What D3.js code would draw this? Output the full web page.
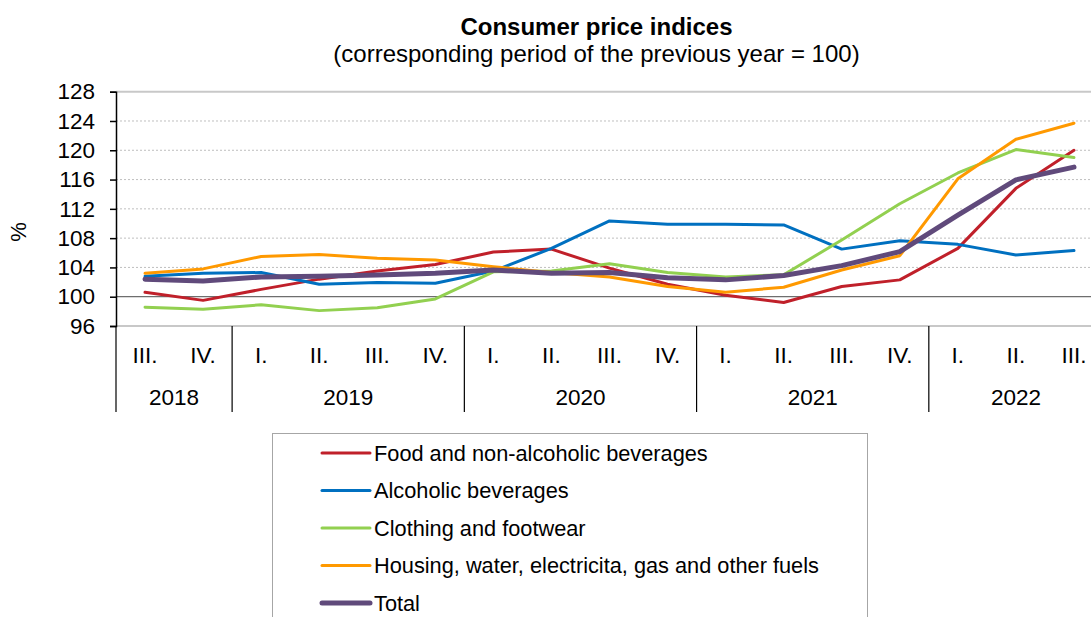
<!DOCTYPE html>
<html><head><meta charset="utf-8">
<script src="https://cdn.jsdelivr.net/npm/d3@7"></script>
<style>body{margin:0;background:#fff}svg{display:block;font-family:"Liberation Sans",Arial,sans-serif}</style>
</head><body><svg id="c" width="1091" height="617"></svg>
<script>
const quarters = ["III.","IV.","I.","II.","III.","IV.","I.","II.","III.","IV.","I.","II.","III.","IV.","I.","II.","III."];
const years = [{label:"2018",start:0,end:2},{label:"2019",start:2,end:6},{label:"2020",start:6,end:10},{label:"2021",start:10,end:14},{label:"2022",start:14,end:17}];
const yTicks = [96,100,104,108,112,116,120,124,128];
const food = [100.6,99.5,101.0,102.4,103.5,104.4,106.1,106.5,103.9,101.7,100.2,99.2,101.4,102.3,106.6,114.8,120.0];
const alcohol = [102.8,103.2,103.3,101.7,101.95,101.85,103.5,106.6,110.35,109.9,109.9,109.8,106.5,107.65,107.15,105.7,106.3];
const clothing = [98.55,98.3,98.9,98.1,98.5,99.7,103.4,103.5,104.5,103.3,102.7,103.0,107.75,112.7,116.9,120.1,119.0];
const housing = [103.2,103.8,105.5,105.75,105.25,105.0,104.1,103.3,102.7,101.4,100.6,101.3,103.65,105.6,116.1,121.5,123.7];
const total = [102.4,102.15,102.7,102.8,102.95,103.2,103.65,103.2,103.3,102.6,102.3,102.9,104.25,106.15,111.15,115.95,117.7];
const seriesNames = ["Food and non-alcoholic beverages","Alcoholic beverages","Clothing and footwear","Housing, water, electricita, gas and other fuels","Total"];
const seriesValues = [food, alcohol, clothing, housing, total];
const colors = ["#c0202a","#0070c0","#92d050","#ff9900","#604a7b"];
const widths = [3,3,3,3,5];

const svg = d3.select("#c");
const L = 116, R = 1103, T = 91.7, B = 326;
const x = d3.scaleBand().domain(d3.range(quarters.length)).range([L, R]);
const y = d3.scaleLinear().domain([96,128]).range([B, T]);
const cx = i => x(i) + x.bandwidth()/2;

// title
svg.append("text").attr("x",596.5).attr("y",35).attr("text-anchor","middle").attr("font-weight","bold").attr("font-size",24).text("Consumer price indices");
svg.append("text").attr("x",596.5).attr("y",62).attr("text-anchor","middle").attr("font-size",24).text("(corresponding period of the previous year = 100)");

// gridlines
svg.append("g").selectAll("line").data(yTicks.filter(t=>t!==96 && t!==100 && t!==128)).join("line")
  .attr("x1",L).attr("x2",R).attr("y1",d=>y(d)).attr("y2",d=>y(d))
  .attr("stroke","#bfbfbf").attr("stroke-width",1).attr("stroke-dasharray","2,2");
// plot top/bottom borders
svg.append("line").attr("x1",L).attr("x2",R).attr("y1",y(128)).attr("y2",y(128)).attr("stroke","#c8c8c8").attr("stroke-width",2);
svg.append("line").attr("x1",L).attr("x2",R).attr("y1",y(96)).attr("y2",y(96)).attr("stroke","#c8c8c8").attr("stroke-width",2);
// 100 line
svg.append("line").attr("x1",L).attr("x2",R).attr("y1",y(100)).attr("y2",y(100)).attr("stroke","#6e6e6e").attr("stroke-width",1.3);

// y axis
const yAxis = d3.axisLeft(y).tickValues(yTicks).tickSize(6).tickPadding(15);
const ga = svg.append("g").attr("transform",`translate(${L},0)`).call(yAxis);
ga.select(".domain").attr("stroke","#000").attr("stroke-width",1.5);
ga.selectAll(".tick line").attr("stroke","#000").attr("stroke-width",1.5);
ga.selectAll(".tick text").attr("font-size",22.5).attr("fill","#000").attr("font-family","Liberation Sans, Arial, sans-serif");
svg.append("text").attr("transform","translate(26,232) rotate(-90)").attr("text-anchor","middle").attr("font-size",22).text("%");

// x category labels
svg.append("g").selectAll("text").data(quarters).join("text")
  .attr("x",(d,i)=>cx(i)).attr("y",363).attr("text-anchor","middle").attr("font-size",22.5).text(d=>d);
svg.append("g").selectAll("text").data(years).join("text")
  .attr("x",d=>(x(d.start)+ (d.end<quarters.length? x(d.end) : R))/2).attr("y",405)
  .attr("text-anchor","middle").attr("font-size",22.5).text(d=>d.label);
// year separators
const seps = [0].concat(years.map(d=>d.end).filter(e=>e<quarters.length));
svg.append("g").selectAll("line").data(seps).join("line")
  .attr("x1",d=>x(d)).attr("x2",d=>x(d)).attr("y1",B).attr("y2",412)
  .attr("stroke","#000").attr("stroke-width",1.2);

// lines
const line = d3.line().x((d,i)=>cx(i)).y(d=>y(d));
svg.append("g").selectAll("path").data(seriesValues).join("path")
  .attr("d",d=>line(d)).attr("fill","none")
  .attr("stroke",(d,i)=>colors[i]).attr("stroke-width",(d,i)=>widths[i])
  .attr("stroke-linejoin","round").attr("stroke-linecap","round");

// legend
const lg = svg.append("g");
lg.append("rect").attr("x",272.5).attr("y",433.5).attr("width",595).attr("height",200).attr("fill","none").attr("stroke","#a6a6a6").attr("stroke-width",1);
const rows = lg.selectAll("g").data(seriesNames).join("g").attr("transform",(d,i)=>`translate(0,${453+i*37.5})`);
rows.append("line").attr("x1",322).attr("x2",370).attr("y1",0).attr("y2",0)
  .attr("stroke",(d,i)=>colors[i]).attr("stroke-width",(d,i)=>widths[i]).attr("stroke-linecap","round");
rows.append("text").attr("x",374).attr("y",7.8).attr("font-size",21.75).text(d=>d);
</script></body></html>
